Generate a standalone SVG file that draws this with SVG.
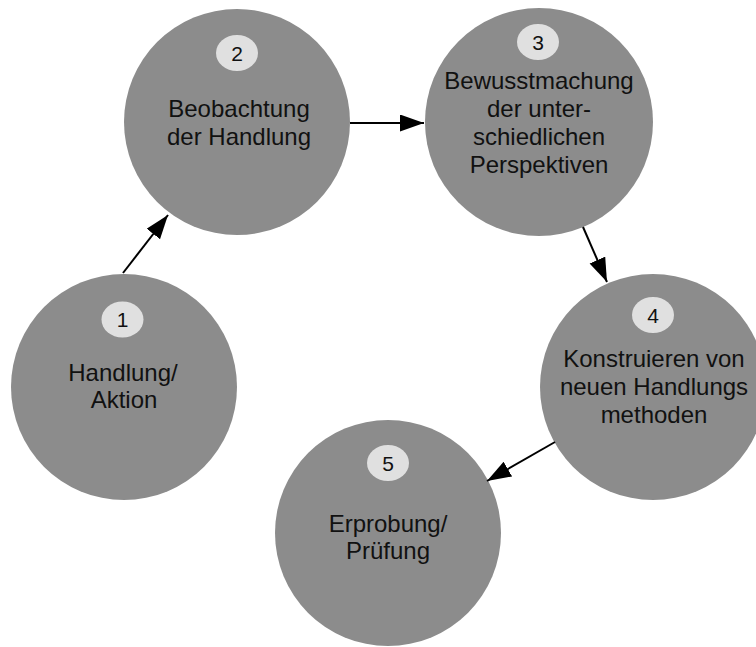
<svg xmlns="http://www.w3.org/2000/svg" width="756" height="647" viewBox="0 0 756 647">
  <style>
    .disc { fill: #8c8c8c; }
    .badge { fill: #e0e0e0; }
    .num { font-family: "Liberation Sans", Arial, sans-serif; font-size: 21px; fill: #111; text-anchor: middle; }
    .lbl { font-family: "Liberation Sans", Arial, sans-serif; font-size: 24px; fill: #111; text-anchor: middle; }
    .edge { stroke: #000; stroke-width: 2; fill: none; marker-end: url(#head); }
  </style>
  <defs>
    <marker id="head" markerUnits="userSpaceOnUse" markerWidth="25" markerHeight="18" refX="24" refY="8.5" orient="auto">
      <path d="M0,0 L24,8.5 L0,17 z" fill="#000"/>
    </marker>
  </defs>
  <rect width="756" height="647" fill="#fff"/>

  <!-- process steps -->
  <g id="step1">
    <circle class="disc" cx="124" cy="387" r="113"/>
    <ellipse class="badge" cx="122.5" cy="319.5" rx="21" ry="18"/>
    <text class="num" x="122.5" y="327">1</text>
    <text class="lbl" x="123" y="381">Handlung/</text>
    <text class="lbl" x="124" y="408">Aktion</text>
  </g>

  <g id="step2">
    <circle class="disc" cx="237" cy="122" r="113"/>
    <ellipse class="badge" cx="237" cy="53" rx="21" ry="18"/>
    <text class="num" x="237" y="60.5">2</text>
    <text class="lbl" x="239" y="117">Beobachtung</text>
    <text class="lbl" x="239" y="145">der Handlung</text>
  </g>

  <g id="step3">
    <circle class="disc" cx="539" cy="122" r="114"/>
    <ellipse class="badge" cx="538" cy="42" rx="21" ry="18"/>
    <text class="num" x="538" y="49.5">3</text>
    <text class="lbl" x="539" y="89">Bewusstmachung</text>
    <text class="lbl" x="539" y="117">der unter-</text>
    <text class="lbl" x="539" y="145">schiedlichen</text>
    <text class="lbl" x="539" y="173">Perspektiven</text>
  </g>

  <g id="step4">
    <circle class="disc" cx="653" cy="387" r="113"/>
    <ellipse class="badge" cx="653" cy="315" rx="21" ry="18"/>
    <text class="num" x="653" y="322.5">4</text>
    <text class="lbl" x="654" y="367">Konstruieren von</text>
    <text class="lbl" x="654" y="395">neuen Handlungs</text>
    <text class="lbl" x="654" y="423">methoden</text>
  </g>

  <g id="step5">
    <circle class="disc" cx="388" cy="533" r="113"/>
    <ellipse class="badge" cx="388" cy="463" rx="21" ry="18"/>
    <text class="num" x="388" y="470.5">5</text>
    <text class="lbl" x="388" y="532">Erprobung/</text>
    <text class="lbl" x="388" y="559">Prüfung</text>
  </g>

  <!-- connectors -->
  <g id="connectors">
    <line class="edge" x1="123" y1="273" x2="168" y2="215"/>
    <line class="edge" x1="350" y1="123" x2="424" y2="123"/>
    <line class="edge" x1="583" y1="227" x2="607" y2="282"/>
    <line class="edge" x1="555" y1="442" x2="487" y2="481"/>
  </g>
</svg>
